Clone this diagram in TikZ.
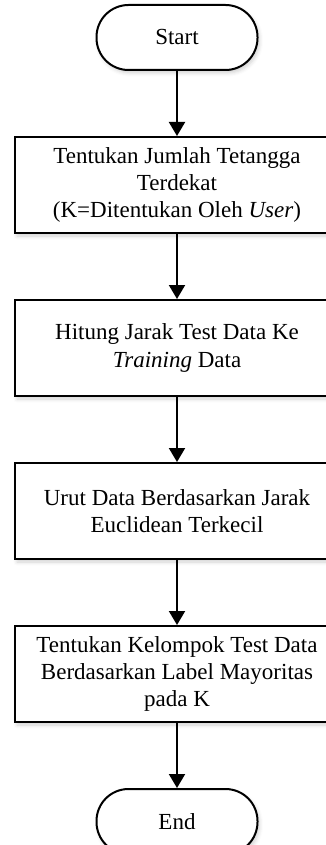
\documentclass[tikz,border=0pt]{standalone}
\usepackage{fontspec}
\setmainfont{Liberation Serif}
\usepackage{tikz}
\usetikzlibrary{arrows.meta,positioning,shadows.blur}
\tikzset{
  terminal/.style={draw=black,line width=1pt,rectangle,rounded corners=16pt,
    fill=white,minimum width=80.5pt,minimum height=32.5pt,align=center,
    font=\fontsize{11.5}{13.7}\selectfont,
    blur shadow={shadow xshift=1pt,shadow yshift=-1.5pt,shadow opacity=18}},
  stepbox/.style={draw=black,line width=1pt,rectangle,fill=white,
    minimum width=162pt,minimum height=48pt,align=center,inner sep=2pt,
    font=\fontsize{11.5}{13.7}\selectfont,
    blur shadow={shadow xshift=1pt,shadow yshift=-1.5pt,shadow opacity=18}},
  flowarrow/.style={-{Triangle[length=7pt,width=8pt]},
    line width=1pt,draw=black},
}

\begin{document}
\begin{tikzpicture}[x=0.5pt,y=-0.5pt,node distance=32.5pt]
  \useasboundingbox (0,0) rectangle (326,845);
  \node[terminal] (start) at (177,37.5) {Start};
  \node[stepbox,below=of start] (kval)
    {Tentukan Jumlah Tetangga\\Terdekat\\(K=Ditentukan Oleh \textit{User})};
  \node[stepbox,below=of kval] (dist)
    {Hitung Jarak Test Data Ke\\\textit{Training} Data};
  \node[stepbox,below=of dist] (sort)
    {Urut Data Berdasarkan Jarak\\Euclidean Terkecil};
  \node[stepbox,below=of sort] (vote)
    {Tentukan Kelompok Test Data\\Berdasarkan Label Mayoritas\\pada K};
  \node[terminal,below=of vote] (stop) {End};
  \draw[flowarrow] (start) -- (kval);
  \draw[flowarrow] (kval) -- (dist);
  \draw[flowarrow] (dist) -- (sort);
  \draw[flowarrow] (sort) -- (vote);
  \draw[flowarrow] (vote) -- (stop);
\end{tikzpicture}
\end{document}
